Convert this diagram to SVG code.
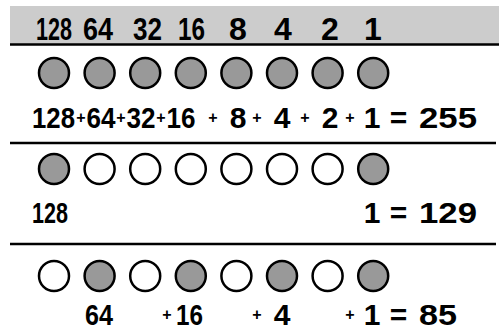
<svg xmlns="http://www.w3.org/2000/svg" width="499" height="329" viewBox="0 0 499 329">
<style>
.t{font-family:"Liberation Sans",Arial,sans-serif;font-weight:bold;fill:#000}
.h{font-size:32px}
.r{font-size:30px}
.p{font-size:16px;text-anchor:middle}
.m{text-anchor:middle}
.on{fill:#999;stroke:#000;stroke-width:2.5}
.off{fill:#fff;stroke:#000;stroke-width:2.5}
.ln{stroke:#000;stroke-width:2.5}
</style>
<rect x="10" y="6" width="489" height="38" fill="#ccc"/>
<g id="rules">
<line class="ln" x1="10" y1="44.5" x2="499" y2="44.5"/>
<line class="ln" x1="10" y1="143" x2="496" y2="143"/>
<line class="ln" x1="10" y1="244" x2="496" y2="244"/>
</g>
<g id="header">
<text class="t h" x="36" y="40" textLength="36" lengthAdjust="spacingAndGlyphs">128</text>
<text class="t h" x="83" y="40" textLength="30" lengthAdjust="spacingAndGlyphs">64</text>
<text class="t h" x="133" y="40" textLength="29" lengthAdjust="spacingAndGlyphs">32</text>
<text class="t h" x="178" y="40" textLength="27" lengthAdjust="spacingAndGlyphs">16</text>
<text class="t h m" x="238" y="40">8</text>
<text class="t h m" x="283" y="40">4</text>
<text class="t h m" x="330" y="40">2</text>
<text class="t h m" x="373" y="40">1</text>
</g>
<g id="row1">
<circle class="on" cx="54" cy="73" r="15"/>
<circle class="on" cx="99.6" cy="73" r="15"/>
<circle class="on" cx="145.2" cy="73" r="15"/>
<circle class="on" cx="190.8" cy="73" r="15"/>
<circle class="on" cx="236.4" cy="73" r="15"/>
<circle class="on" cx="282" cy="73" r="15"/>
<circle class="on" cx="327.6" cy="73" r="15"/>
<circle class="on" cx="373.2" cy="73" r="15"/>
<text class="t r" x="32" y="128" textLength="43" lengthAdjust="spacingAndGlyphs">128</text>
<text class="t p" x="81" y="123">+</text>
<text class="t r" x="86.5" y="128" textLength="29" lengthAdjust="spacingAndGlyphs">64</text>
<text class="t p" x="121" y="123">+</text>
<text class="t r" x="126.5" y="128" textLength="29" lengthAdjust="spacingAndGlyphs">32</text>
<text class="t p" x="161" y="123">+</text>
<text class="t r" x="166.5" y="128" textLength="29" lengthAdjust="spacingAndGlyphs">16</text>
<text class="t p" x="213" y="123">+</text>
<text class="t r m" x="238" y="128">8</text>
<text class="t p" x="257" y="123">+</text>
<text class="t r m" x="282" y="128">4</text>
<text class="t p" x="305" y="123">+</text>
<text class="t r m" x="330" y="128">2</text>
<text class="t p" x="350" y="123">+</text>
<text class="t r m" x="372" y="128">1</text>
<text class="t r m" x="398.5" y="128">=</text>
<text class="t r" x="419" y="128" textLength="58" lengthAdjust="spacingAndGlyphs">255</text>
</g>
<g id="row2">
<circle class="on" cx="54" cy="169" r="15"/>
<circle class="off" cx="99.6" cy="169" r="15"/>
<circle class="off" cx="145.2" cy="169" r="15"/>
<circle class="off" cx="190.8" cy="169" r="15"/>
<circle class="off" cx="236.4" cy="169" r="15"/>
<circle class="off" cx="282" cy="169" r="15"/>
<circle class="off" cx="327.6" cy="169" r="15"/>
<circle class="on" cx="373.2" cy="169" r="15"/>
<text class="t r" x="32" y="223" textLength="36" lengthAdjust="spacingAndGlyphs">128</text>
<text class="t r m" x="372" y="223">1</text>
<text class="t r m" x="398.5" y="223">=</text>
<text class="t r" x="419" y="223" textLength="58" lengthAdjust="spacingAndGlyphs">129</text>
</g>
<g id="row3">
<circle class="off" cx="54" cy="276" r="15"/>
<circle class="on" cx="99.6" cy="276" r="15"/>
<circle class="off" cx="145.2" cy="276" r="15"/>
<circle class="on" cx="190.8" cy="276" r="15"/>
<circle class="off" cx="236.4" cy="276" r="15"/>
<circle class="on" cx="282" cy="276" r="15"/>
<circle class="off" cx="327.6" cy="276" r="15"/>
<circle class="on" cx="373.2" cy="276" r="15"/>
<text class="t r" x="85" y="325" textLength="28" lengthAdjust="spacingAndGlyphs">64</text>
<text class="t p" x="167" y="319.5">+</text>
<text class="t r" x="176" y="325" textLength="27" lengthAdjust="spacingAndGlyphs">16</text>
<text class="t p" x="257" y="319.5">+</text>
<text class="t r m" x="282" y="325">4</text>
<text class="t p" x="350" y="319.5">+</text>
<text class="t r m" x="372" y="325">1</text>
<text class="t r m" x="398.5" y="325">=</text>
<text class="t r" x="419" y="325" textLength="38" lengthAdjust="spacingAndGlyphs">85</text>
</g>
</svg>
